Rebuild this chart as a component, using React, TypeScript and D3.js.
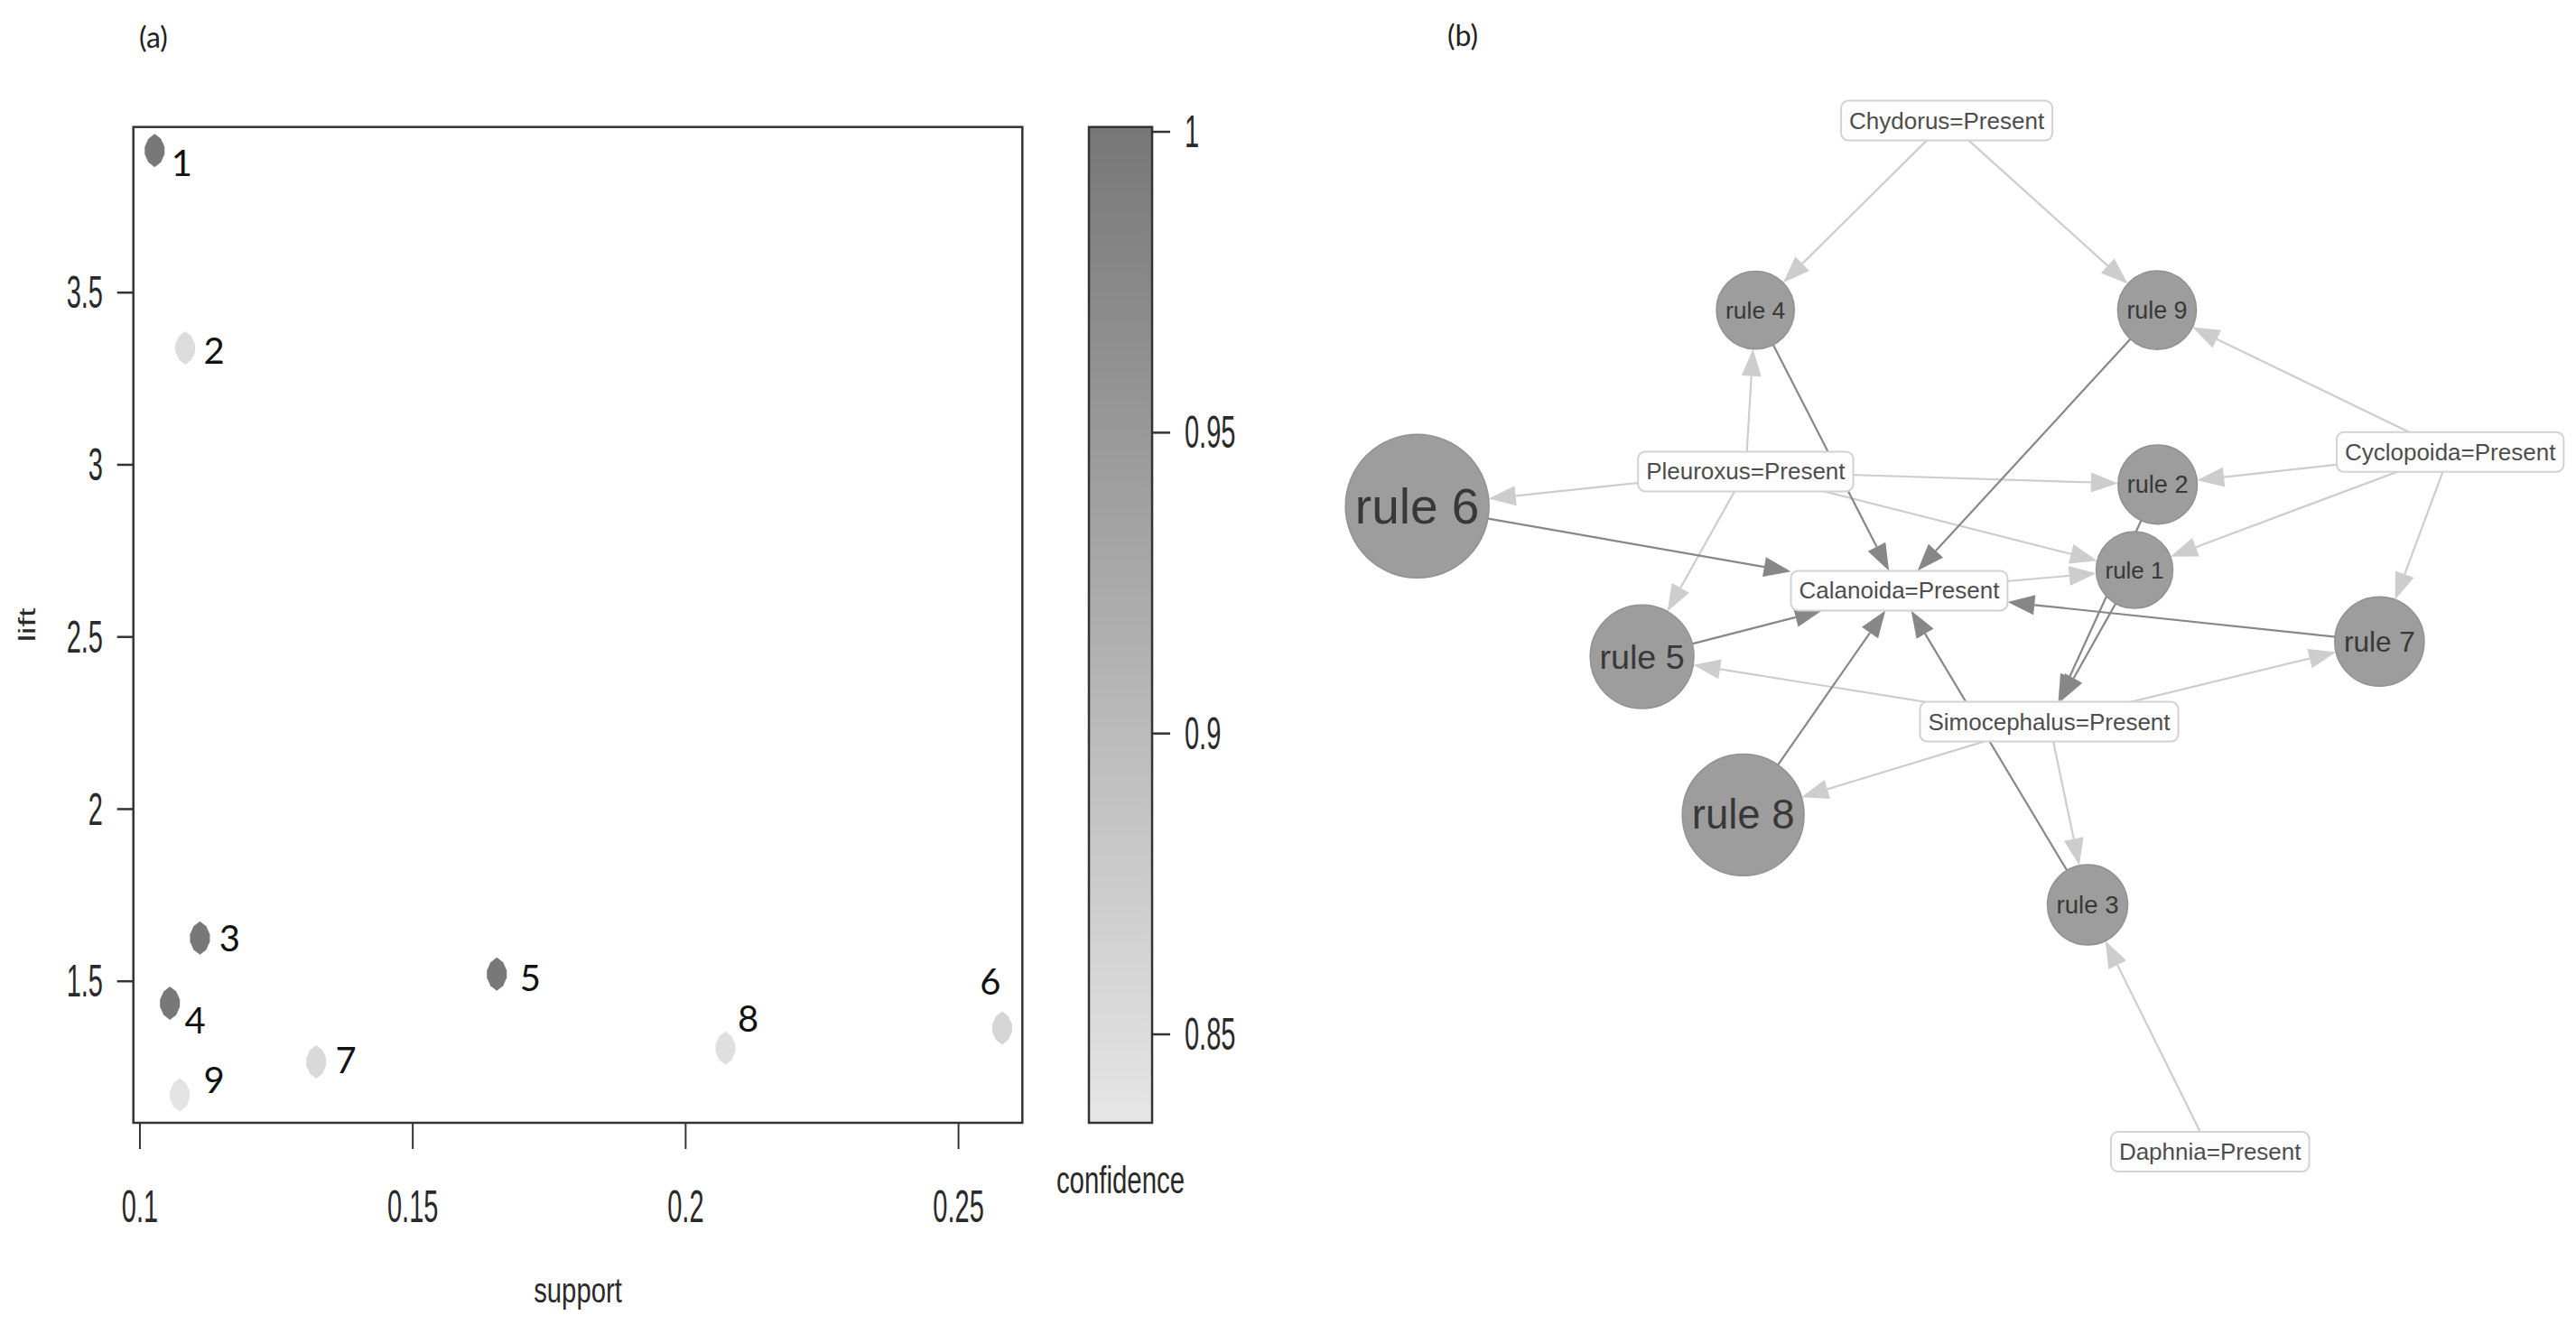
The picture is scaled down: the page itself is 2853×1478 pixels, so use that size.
import React, { useRef, useEffect } from 'react';
import * as d3 from 'd3';

// ---- panel (a): rules plotted by support / lift, shaded by confidence ----
const ruleIds = [1, 2, 3, 4, 5, 6, 7, 8, 9];
const support = [0.1027, 0.1083, 0.111, 0.1055, 0.1654, 0.258, 0.1323, 0.2073, 0.1073];
const lift = [3.913, 3.339, 1.626, 1.436, 1.521, 1.364, 1.266, 1.306, 1.17];
const confidence = [1.0, 0.85, 1.0, 1.0, 1.0, 0.86, 0.855, 0.845, 0.84];

const supportTicks = [0.1, 0.15, 0.2, 0.25];
const liftTicks = [1.5, 2, 2.5, 3, 3.5];
const confidenceTicks = [0.85, 0.9, 0.95, 1];
const supportDomain = [0.0988, 0.2617];
const liftDomain = [1.089, 3.981];
const confidenceDomain = [0.8353, 1.0008];

// ---- panel (b): item / rule graph ----
const items = [
  'Chydorus=Present',
  'Cyclopoida=Present',
  'Pleuroxus=Present',
  'Calanoida=Present',
  'Simocephalus=Present',
  'Daphnia=Present',
];
const ruleLhs = [
  ['Calanoida=Present', 'Cyclopoida=Present', 'Pleuroxus=Present'],
  ['Cyclopoida=Present', 'Pleuroxus=Present'],
  ['Simocephalus=Present', 'Daphnia=Present'],
  ['Chydorus=Present', 'Pleuroxus=Present'],
  ['Pleuroxus=Present', 'Simocephalus=Present'],
  ['Pleuroxus=Present'],
  ['Cyclopoida=Present', 'Simocephalus=Present'],
  ['Simocephalus=Present'],
  ['Chydorus=Present', 'Cyclopoida=Present'],
];
const ruleRhs = [
  'Simocephalus=Present',
  'Simocephalus=Present',
  'Calanoida=Present',
  'Calanoida=Present',
  'Calanoida=Present',
  'Calanoida=Present',
  'Calanoida=Present',
  'Calanoida=Present',
  'Calanoida=Present',
];

// layout only (force-layout result, unit square)
const itemLayout = [
  [0.486, 0.028], [0.899, 0.334], [0.321, 0.352],
  [0.447, 0.462], [0.570, 0.583], [0.702, 0.98],
];
const ruleLayout = [
  [0.640, 0.443], [0.659, 0.364], [0.6015, 0.752], [0.329, 0.203], [0.236, 0.523],
  [0.0516, 0.384], [0.841, 0.509], [0.319, 0.669], [0.6585, 0.203],
];
// where each point label sits relative to its point
const labelNudge = [
  [30, 13], [32, 2], [33, 0], [28, 18], [37, 4], [-13, -52], [33, -2], [25, -33], [38, -17],
];

const W = 2853;
const H = 1478;
const SX = 0.58; // the R panel was squeezed sideways

const drawScatter = (svg) => {
  const plot = { left: 147.7, right: 1132.3, top: 140.7, bottom: 1244 };
  const x = d3.scaleLinear().domain(supportDomain).range([plot.left, plot.right]);
  const y = d3.scaleLinear().domain(liftDomain).range([plot.bottom, plot.top]);
  const cy = d3.scaleLinear().domain(confidenceDomain).range([plot.bottom, plot.top]);
  const col = d3.scaleLinear<string>().domain(confidenceDomain).range(['#e6e6e6', '#777777']);

  const g = svg.append('g');
  const squeezed = (tx, ty, txt, size, anchor, sx = SX, rot = 0) =>
    g.append('text')
      .attr('transform', `translate(${tx},${ty}) scale(${sx},1)${rot ? ` rotate(${rot})` : ''}`)
      .attr('text-anchor', anchor)
      .attr('dominant-baseline', 'central')
      .style('font-family', '"Liberation Sans", Arial, sans-serif')
      .style('font-size', `${size}px`)
      .style('fill', '#2a2a2a')
      .text(txt);

  g.append('text')
    .attr('x', 170).attr('y', 40)
    .attr('text-anchor', 'middle').attr('dominant-baseline', 'central')
    .style('font-family', 'Lato, sans-serif').style('font-size', '32px').style('fill', '#222')
    .text('(a)');

  g.append('rect')
    .attr('x', plot.left).attr('y', plot.top)
    .attr('width', plot.right - plot.left).attr('height', plot.bottom - plot.top)
    .style('fill', 'none').style('stroke', '#333').style('stroke-width', 2.5);

  supportTicks.forEach(t => {
    g.append('line')
      .attr('x1', x(t)).attr('x2', x(t)).attr('y1', plot.bottom).attr('y2', plot.bottom + 29)
      .style('stroke', '#333').style('stroke-width', 2);
    squeezed(x(t), 1337, String(t), 50, 'middle');
  });
  liftTicks.forEach(t => {
    g.append('line')
      .attr('x1', plot.left - 18).attr('x2', plot.left).attr('y1', y(t)).attr('y2', y(t))
      .style('stroke', '#333').style('stroke-width', 2.5);
    squeezed(114, y(t), String(t), 50, 'end');
  });
  squeezed(640, 1430, 'support', 38, 'middle', 0.77);
  squeezed(30, (plot.top + plot.bottom) / 2, 'lift', 38, 'middle', 0.7, -90);

  // squashed round marker (a filled circle after the sideways squeeze)
  const marker = 'M0,-18.5L7,-13L11,-4L11,4L7,13L0,18.5L-7,13L-11,4L-11,-4L-7,-13Z';
  ruleIds.forEach((id, i) => {
    g.append('path')
      .attr('d', marker)
      .attr('transform', `translate(${x(support[i])},${y(lift[i])})`)
      .style('fill', col(confidence[i]));
    g.append('text')
      .attr('x', x(support[i]) + labelNudge[i][0])
      .attr('y', y(lift[i]) + labelNudge[i][1])
      .attr('text-anchor', 'middle').attr('dominant-baseline', 'central')
      .style('font-family', 'Lato, sans-serif').style('font-size', '40px').style('fill', '#111')
      .text(String(id));
  });

  // colour key
  const grad = svg.append('defs').append('linearGradient')
    .attr('id', 'confGrad').attr('x1', 0).attr('x2', 0).attr('y1', 1).attr('y2', 0);
  d3.range(0, 1.0001, 0.1).forEach(f => {
    const v = confidenceDomain[0] + f * (confidenceDomain[1] - confidenceDomain[0]);
    grad.append('stop').attr('offset', f).attr('stop-color', col(v));
  });
  const barL = 1206;
  const barR = 1276;
  g.append('rect')
    .attr('x', barL).attr('y', plot.top).attr('width', barR - barL).attr('height', plot.bottom - plot.top)
    .style('fill', 'url(#confGrad)').style('stroke', '#333').style('stroke-width', 2.5);
  confidenceTicks.forEach(t => {
    g.append('line')
      .attr('x1', barR).attr('x2', barR + 20).attr('y1', cy(t)).attr('y2', cy(t))
      .style('stroke', '#333').style('stroke-width', 2.5);
    squeezed(barR + 36, cy(t), String(t), 50, 'start');
  });
  squeezed((barL + barR) / 2, 1308, 'confidence', 42, 'middle', 0.7);
};

const drawNetwork = (svg) => {
  const gx = d3.scaleLinear().domain([0, 1]).range([1500, 2850]);
  const gy = d3.scaleLinear().domain([0, 1]).range([100, 1300]);
  const ext = d3.extent(support) as [number, number];
  const rScale = d3.scaleLinear().domain(ext).range([42.5, 79.5]);
  const fScale = d3.scaleLinear().domain(ext).range([26, 55]);

  const g = svg.append('g');
  g.append('text')
    .attr('x', 1620).attr('y', 38)
    .attr('text-anchor', 'middle').attr('dominant-baseline', 'central')
    .style('font-family', 'Lato, sans-serif').style('font-size', '32px').style('fill', '#222')
    .text('(b)');

  const edgeLayer = g.append('g');
  const nodeLayer = g.append('g');

  // item boxes first so their sizes are known
  const nodes = new Map();
  items.forEach((name, i) => {
    const cx = gx(itemLayout[i][0]);
    const cyy = gy(itemLayout[i][1]);
    const grp = nodeLayer.append('g');
    const rect = grp.append('rect');
    const txt = grp.append('text')
      .attr('x', cx).attr('y', cyy)
      .attr('text-anchor', 'middle').attr('dominant-baseline', 'central')
      .style('font-family', '"Liberation Sans", Arial, sans-serif')
      .style('font-size', '26px').style('fill', '#4d4d4d')
      .text(name);
    const w = (txt.node() as SVGTextElement).getComputedTextLength() + 18;
    const h = 44;
    rect.attr('x', cx - w / 2).attr('y', cyy - h / 2).attr('width', w).attr('height', h)
      .attr('rx', 8)
      .style('fill', '#fdfdfd').style('stroke', '#d2d2d2').style('stroke-width', 2);
    nodes.set(name, { x: cx, y: cyy, w, h, shape: 'box' });
  });
  ruleIds.forEach((id, i) => {
    const cx = gx(ruleLayout[i][0]);
    const cyy = gy(ruleLayout[i][1]);
    const r = rScale(support[i]);
    nodeLayer.append('circle')
      .attr('cx', cx).attr('cy', cyy).attr('r', r)
      .style('fill', '#9d9d9d').style('stroke', '#919191').style('stroke-width', 1.5);
    nodeLayer.append('text')
      .attr('x', cx).attr('y', cyy)
      .attr('text-anchor', 'middle').attr('dominant-baseline', 'central')
      .style('font-family', '"Liberation Sans", Arial, sans-serif')
      .style('font-size', `${fScale(support[i])}px`).style('fill', '#383838')
      .text(`rule ${id}`);
    nodes.set(`rule ${id}`, { x: cx, y: cyy, r, shape: 'circle' });
  });

  const edges = [];
  ruleIds.forEach((id, i) => {
    ruleLhs[i].forEach(it => edges.push({ s: it, t: `rule ${id}`, dark: false }));
    edges.push({ s: `rule ${id}`, t: ruleRhs[i], dark: true });
  });

  const boundary = (n, ux, uy) => {
    if (n.shape === 'circle') return [n.x - ux * n.r, n.y - uy * n.r];
    const k = Math.min((n.w / 2) / Math.max(Math.abs(ux), 1e-9), (n.h / 2) / Math.max(Math.abs(uy), 1e-9));
    return [n.x - ux * k, n.y - uy * k];
  };

  const arrowL = 30;
  const arrowW = 11;
  edges.forEach(e => {
    const a = nodes.get(e.s);
    const b = nodes.get(e.t);
    const dx = b.x - a.x;
    const dy = b.y - a.y;
    const len = Math.hypot(dx, dy);
    const ux = dx / len;
    const uy = dy / len;
    const [tx, ty] = boundary(b, ux, uy);
    const bx = tx - ux * arrowL;
    const by = ty - uy * arrowL;
    const c = e.dark ? '#878787' : '#cdcdcd';
    edgeLayer.append('line')
      .attr('x1', a.x).attr('y1', a.y).attr('x2', bx).attr('y2', by)
      .style('stroke', c).style('stroke-width', 2.2);
    edgeLayer.append('path')
      .attr('d', d3.line()([
        [tx, ty],
        [bx - uy * arrowW, by + ux * arrowW],
        [bx + uy * arrowW, by - ux * arrowW],
      ]) + 'Z')
      .style('fill', c);
  });
};

const App = () => {
  const svgRef = useRef<SVGSVGElement>(null);

  useEffect(() => {
    const svg = d3.select(svgRef.current);
    svg.selectAll('*').remove();
    drawScatter(svg);
    drawNetwork(svg);
  }, []);

  return (
    <svg
      ref={svgRef}
      width={W}
      height={H}
      style={{ position: 'absolute', left: 0, top: 0, background: '#fff' }}
    />
  );
};

export default App;
